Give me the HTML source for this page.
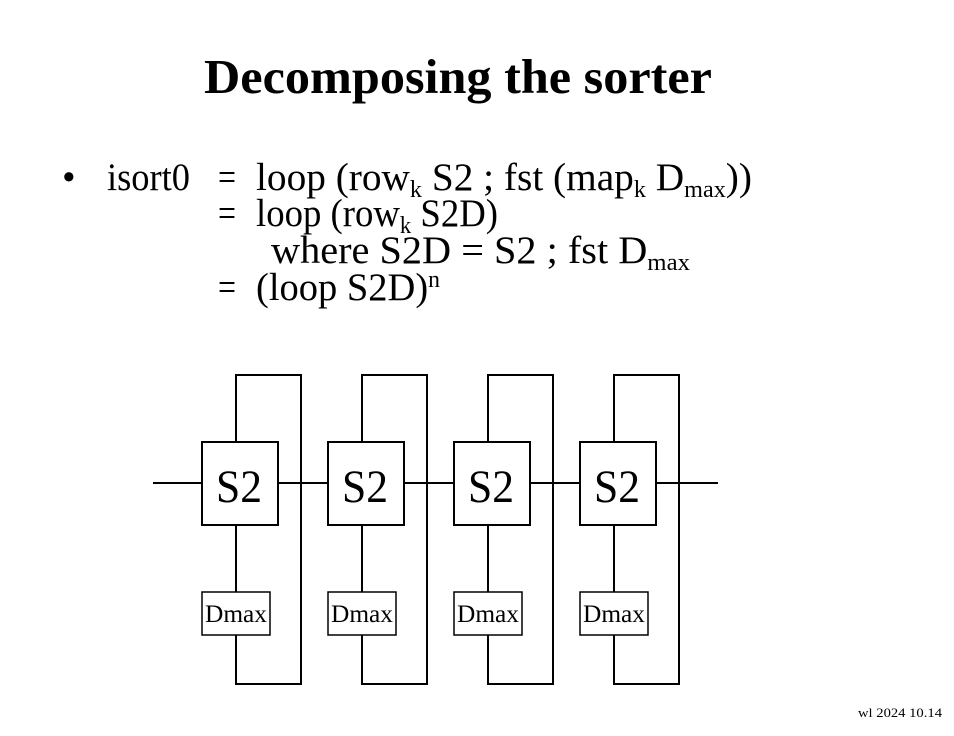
<!DOCTYPE html>
<html><head><meta charset="utf-8"><style>
body{margin:0;background:#fff}
svg{display:block}
text{font-family:"Liberation Serif",serif;fill:#000}
</style></head><body>
<svg width="954" height="736" viewBox="0 0 954 736">
<text x="204" y="93" textLength="508" lengthAdjust="spacingAndGlyphs" font-size="49" font-weight="bold">Decomposing the sorter</text>
<g font-size="39">
<text x="62" y="190">•</text>
<text x="107" y="190" textLength="83" lengthAdjust="spacingAndGlyphs">isort0</text>
<text x="218" y="190" textLength="18" lengthAdjust="spacingAndGlyphs">=</text>
<text x="256" y="190" textLength="496" lengthAdjust="spacingAndGlyphs">loop (row<tspan font-size="24" dy="7">k</tspan><tspan dy="-7"> S2 ; fst (map</tspan><tspan font-size="24" dy="7">k</tspan><tspan dy="-7"> D</tspan><tspan font-size="24" dy="7">max</tspan><tspan dy="-7">))</tspan></text>
<text x="218" y="226" textLength="18" lengthAdjust="spacingAndGlyphs">=</text>
<text x="256" y="226" textLength="242" lengthAdjust="spacingAndGlyphs">loop (row<tspan font-size="24" dy="7">k</tspan><tspan dy="-7"> S2D)</tspan></text>
<text x="271" y="263" textLength="419" lengthAdjust="spacingAndGlyphs">where S2D = S2 ;  fst D<tspan font-size="24" dy="7">max</tspan></text>
<text x="218" y="300" textLength="18" lengthAdjust="spacingAndGlyphs">=</text>
<text x="256" y="300" textLength="184" lengthAdjust="spacingAndGlyphs">(loop S2D)<tspan font-size="24" dy="-13">n</tspan></text>
</g>
<g id="diagram" stroke="#000" stroke-width="2" fill="none"></g>
<text x="858" y="717" font-size="13" textLength="84" lengthAdjust="spacingAndGlyphs">wl 2024  10.14</text>
</svg>
<script>
const stages=["S2","S2","S2","S2"];
const dlabels=["Dmax","Dmax","Dmax","Dmax"];
const g=document.getElementById('diagram');
const NS='http://www.w3.org/2000/svg';
function el(t,a,p){const e=document.createElementNS(NS,t);for(const k in a)e.setAttribute(k,a[k]);(p||g).appendChild(e);return e;}
const x0=202,step=126,lineY=483;
let l=el('line',{x1:153,y1:lineY,x2:x0,y2:lineY});


stages.forEach((s,i)=>{
  const x=x0+i*step, cx=x+34;
  const p=el('path',{d:`M${cx},442 V375 H${x+99} V684 H${cx} V635 M${cx},525 V592`});
  
  
  const r=el('rect',{x:x,y:442,width:76,height:83});
  
  
  const t=el('text',{x:x+14,y:502,textLength:46,lengthAdjust:'spacingAndGlyphs','font-size':47,fill:'#000',stroke:'none'});
  t.textContent=s;
  
  
  const d=el('rect',{x:x,y:592,width:68,height:43,'stroke-width':1.5});
  
  
  const dt=el('text',{x:x+3,y:622,textLength:62,lengthAdjust:'spacingAndGlyphs','font-size':25,fill:'#000',stroke:'none'});
  dt.textContent=dlabels[i];
  
  
  const w=el('line',{x1:x+76,y1:lineY,x2:(i<stages.length-1?x+step:718),y2:lineY});
  
  
});
</script>
</body></html>
